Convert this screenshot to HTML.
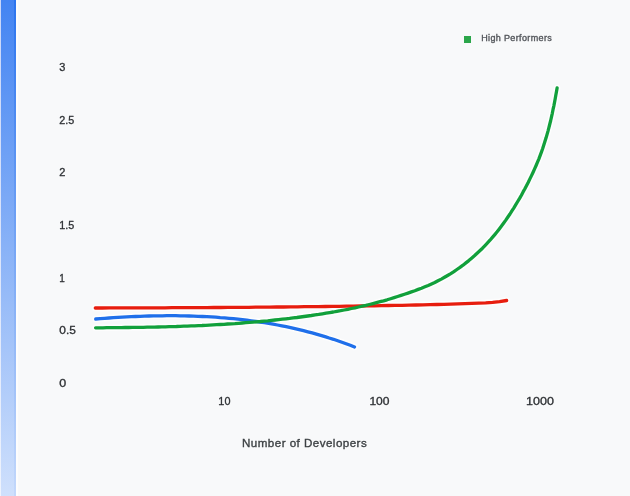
<!DOCTYPE html>
<html><head><meta charset="utf-8"><title>Chart</title>
<style>
html,body{margin:0;padding:0;}
body{width:630px;height:496px;overflow:hidden;background:#f8f9fa;position:relative;font-family:"Liberation Sans",sans-serif;}
.bar0{position:absolute;left:0;top:0;width:1px;height:496px;background:linear-gradient(#c8d6f9,#eef3fd);}
.bar{position:absolute;left:1px;top:0;width:15px;height:496px;background:linear-gradient(#4384f2,#cfe0fc);}
.bar2{position:absolute;left:14px;top:0;width:2px;height:496px;background:linear-gradient(#2b74ee,#c3d8fb);}
.bar3{position:absolute;left:16px;top:0;width:2px;height:496px;background:#fdfdfd;}
.title{position:absolute;left:242px;top:436.4px;font-size:11.6px;line-height:14px;color:#3c4043;-webkit-text-stroke:0.35px #3c4043;white-space:nowrap;letter-spacing:0.46px;}
.lg{position:absolute;left:463.7px;top:35.6px;width:7.6px;height:7.3px;background:#2ba64a;}
.lt{position:absolute;left:481.2px;top:32.5px;font-size:9px;line-height:11px;color:#53565b;-webkit-text-stroke:0.35px #53565b;white-space:nowrap;letter-spacing:0.36px;}
svg{position:absolute;left:0;top:0;}
</style></head><body>
<div class="bar0"></div><div class="bar"></div><div class="bar2"></div><div class="bar3"></div>
<div class="title">Number of Developers</div>
<div class="lg"></div><div class="lt">High Performers</div>
<svg width="630" height="496" viewBox="0 0 630 496" fill="none" stroke-width="3.3" stroke-linecap="round" stroke-linejoin="round">
<g stroke="#ffffff" stroke-width="6.4" opacity="0.75"><path d="M95.3,308.0 L102.3,308.0 L109.2,307.9 L116.2,307.9 L123.2,307.9 L130.2,307.9 L137.1,307.9 L144.1,307.8 L151.1,307.8 L158.0,307.8 L165.0,307.8 L172.0,307.7 L179.0,307.7 L185.9,307.7 L192.9,307.6 L199.9,307.6 L206.9,307.6 L213.8,307.5 L220.8,307.5 L227.8,307.4 L234.7,307.4 L241.7,307.3 L248.7,307.3 L255.7,307.2 L262.6,307.2 L269.6,307.1 L276.6,307.0 L283.6,307.0 L290.5,306.9 L297.5,306.8 L304.5,306.7 L311.5,306.7 L318.4,306.6 L325.4,306.5 L332.4,306.4 L339.4,306.3 L346.3,306.2 L353.3,306.1 L360.3,306.0 L367.2,305.9 L374.2,305.8 L381.2,305.6 L388.2,305.5 L395.1,305.4 L402.1,305.3 L409.1,305.1 L416.0,305.0 L423.0,304.8 L430.0,304.7 L436.9,304.5 L443.9,304.3 L450.9,304.1 L457.8,303.9 L464.8,303.7 L471.8,303.4 L478.7,303.1 L485.7,302.8 L492.6,302.3 L499.6,301.6 L506.6,300.5"/><path d="M95.7,319.0 L100.2,318.6 L104.6,318.3 L109.0,318.0 L113.4,317.7 L117.9,317.4 L122.3,317.1 L126.8,316.9 L131.2,316.7 L135.6,316.5 L140.1,316.3 L144.5,316.1 L149.0,316.0 L153.5,315.9 L157.9,315.8 L162.4,315.8 L166.8,315.7 L171.3,315.7 L175.7,315.7 L180.2,315.8 L184.7,315.9 L189.1,316.0 L193.6,316.1 L198.0,316.3 L202.5,316.5 L206.9,316.7 L211.4,316.9 L215.8,317.2 L220.2,317.6 L224.7,317.9 L229.1,318.3 L233.5,318.7 L238.0,319.2 L242.4,319.7 L246.8,320.2 L251.2,320.8 L255.6,321.4 L260.0,322.0 L264.4,322.7 L268.8,323.4 L273.1,324.2 L277.5,325.0 L281.9,325.8 L286.2,326.7 L290.6,327.6 L294.9,328.6 L299.2,329.6 L303.5,330.7 L307.9,331.8 L312.2,332.9 L316.4,334.1 L320.7,335.3 L325.0,336.6 L329.2,338.0 L333.5,339.3 L337.7,340.8 L341.9,342.2 L346.1,343.8 L350.3,345.3 L354.5,347.0"/><path d="M95.6,327.8 L99.3,327.8 L103.0,327.8 L106.7,327.7 L110.4,327.7 L114.0,327.7 L117.7,327.6 L121.4,327.6 L125.1,327.5 L128.8,327.5 L132.4,327.4 L136.1,327.4 L139.8,327.3 L143.5,327.3 L147.1,327.2 L150.8,327.1 L154.5,327.1 L158.1,327.0 L161.8,326.9 L165.5,326.8 L169.1,326.7 L172.8,326.6 L176.5,326.5 L180.1,326.3 L183.8,326.2 L187.4,326.1 L191.1,325.9 L194.7,325.8 L198.4,325.6 L202.1,325.5 L205.7,325.3 L209.4,325.1 L213.0,324.9 L216.7,324.7 L220.3,324.5 L224.0,324.3 L227.6,324.0 L231.3,323.8 L234.9,323.6 L238.6,323.3 L242.2,323.0 L245.8,322.7 L249.5,322.4 L253.1,322.1 L256.8,321.8 L260.4,321.5 L264.1,321.1 L267.7,320.8 L271.4,320.4 L275.0,320.0 L278.6,319.6 L282.3,319.2 L285.9,318.8 L289.6,318.4 L293.2,317.9 L296.9,317.5 L300.5,317.0 L304.1,316.5 L307.8,316.0 L311.4,315.5 L315.1,314.9 L318.7,314.4 L322.4,313.8 L326.0,313.2 L329.7,312.6 L333.3,312.0 L336.9,311.3 L340.6,310.7 L344.2,310.0 L347.8,309.3 L351.4,308.5 L355.0,307.8 L358.6,307.0 L362.2,306.2 L365.8,305.4 L369.4,304.5 L373.0,303.6 L376.5,302.7 L380.1,301.7 L383.6,300.8 L387.1,299.8 L390.6,298.7 L394.1,297.6 L397.6,296.5 L401.1,295.4 L404.5,294.3 L408.0,293.1 L411.4,291.9 L414.8,290.7 L418.2,289.4 L421.5,288.2 L424.9,286.8 L428.2,285.5 L431.5,284.0 L434.8,282.5 L438.0,280.8 L441.3,279.1 L444.5,277.3 L447.6,275.5 L450.8,273.6 L453.9,271.6 L456.9,269.5 L460.0,267.4 L463.0,265.2 L465.9,262.9 L468.8,260.6 L471.6,258.2 L474.4,255.8 L477.1,253.3 L479.8,250.8 L482.5,248.2 L485.0,245.6 L487.5,242.9 L490.0,240.2 L492.4,237.4 L494.8,234.6 L497.1,231.8 L499.3,228.9 L501.5,226.0 L503.7,223.0 L505.8,220.1 L507.9,217.0 L510.0,214.0 L511.9,210.9 L513.9,207.8 L515.8,204.7 L517.7,201.5 L519.6,198.4 L521.4,195.2 L523.1,191.9 L524.9,188.7 L526.6,185.4 L528.3,182.2 L529.9,178.9 L531.5,175.6 L533.1,172.2 L534.6,168.9 L536.1,165.5 L537.5,162.2 L538.9,158.8 L540.2,155.4 L541.5,151.9 L542.7,148.5 L543.8,145.1 L544.9,141.6 L546.0,138.1 L547.0,134.6 L548.0,131.1 L548.9,127.6 L549.8,124.0 L550.7,120.5 L551.5,116.9 L552.3,113.3 L553.0,109.7 L553.8,106.1 L554.5,102.5 L555.2,98.8 L555.8,95.2 L556.5,91.5 L557.1,87.9"/></g>
<path stroke="#e71d0e" d="M95.3,308.0 L102.3,308.0 L109.2,307.9 L116.2,307.9 L123.2,307.9 L130.2,307.9 L137.1,307.9 L144.1,307.8 L151.1,307.8 L158.0,307.8 L165.0,307.8 L172.0,307.7 L179.0,307.7 L185.9,307.7 L192.9,307.6 L199.9,307.6 L206.9,307.6 L213.8,307.5 L220.8,307.5 L227.8,307.4 L234.7,307.4 L241.7,307.3 L248.7,307.3 L255.7,307.2 L262.6,307.2 L269.6,307.1 L276.6,307.0 L283.6,307.0 L290.5,306.9 L297.5,306.8 L304.5,306.7 L311.5,306.7 L318.4,306.6 L325.4,306.5 L332.4,306.4 L339.4,306.3 L346.3,306.2 L353.3,306.1 L360.3,306.0 L367.2,305.9 L374.2,305.8 L381.2,305.6 L388.2,305.5 L395.1,305.4 L402.1,305.3 L409.1,305.1 L416.0,305.0 L423.0,304.8 L430.0,304.7 L436.9,304.5 L443.9,304.3 L450.9,304.1 L457.8,303.9 L464.8,303.7 L471.8,303.4 L478.7,303.1 L485.7,302.8 L492.6,302.3 L499.6,301.6 L506.6,300.5"/>
<path stroke="#1f6fea" d="M95.7,319.0 L100.2,318.6 L104.6,318.3 L109.0,318.0 L113.4,317.7 L117.9,317.4 L122.3,317.1 L126.8,316.9 L131.2,316.7 L135.6,316.5 L140.1,316.3 L144.5,316.1 L149.0,316.0 L153.5,315.9 L157.9,315.8 L162.4,315.8 L166.8,315.7 L171.3,315.7 L175.7,315.7 L180.2,315.8 L184.7,315.9 L189.1,316.0 L193.6,316.1 L198.0,316.3 L202.5,316.5 L206.9,316.7 L211.4,316.9 L215.8,317.2 L220.2,317.6 L224.7,317.9 L229.1,318.3 L233.5,318.7 L238.0,319.2 L242.4,319.7 L246.8,320.2 L251.2,320.8 L255.6,321.4 L260.0,322.0 L264.4,322.7 L268.8,323.4 L273.1,324.2 L277.5,325.0 L281.9,325.8 L286.2,326.7 L290.6,327.6 L294.9,328.6 L299.2,329.6 L303.5,330.7 L307.9,331.8 L312.2,332.9 L316.4,334.1 L320.7,335.3 L325.0,336.6 L329.2,338.0 L333.5,339.3 L337.7,340.8 L341.9,342.2 L346.1,343.8 L350.3,345.3 L354.5,347.0"/>
<path stroke="#11a03b" d="M95.6,327.8 L99.3,327.8 L103.0,327.8 L106.7,327.7 L110.4,327.7 L114.0,327.7 L117.7,327.6 L121.4,327.6 L125.1,327.5 L128.8,327.5 L132.4,327.4 L136.1,327.4 L139.8,327.3 L143.5,327.3 L147.1,327.2 L150.8,327.1 L154.5,327.1 L158.1,327.0 L161.8,326.9 L165.5,326.8 L169.1,326.7 L172.8,326.6 L176.5,326.5 L180.1,326.3 L183.8,326.2 L187.4,326.1 L191.1,325.9 L194.7,325.8 L198.4,325.6 L202.1,325.5 L205.7,325.3 L209.4,325.1 L213.0,324.9 L216.7,324.7 L220.3,324.5 L224.0,324.3 L227.6,324.0 L231.3,323.8 L234.9,323.6 L238.6,323.3 L242.2,323.0 L245.8,322.7 L249.5,322.4 L253.1,322.1 L256.8,321.8 L260.4,321.5 L264.1,321.1 L267.7,320.8 L271.4,320.4 L275.0,320.0 L278.6,319.6 L282.3,319.2 L285.9,318.8 L289.6,318.4 L293.2,317.9 L296.9,317.5 L300.5,317.0 L304.1,316.5 L307.8,316.0 L311.4,315.5 L315.1,314.9 L318.7,314.4 L322.4,313.8 L326.0,313.2 L329.7,312.6 L333.3,312.0 L336.9,311.3 L340.6,310.7 L344.2,310.0 L347.8,309.3 L351.4,308.5 L355.0,307.8 L358.6,307.0 L362.2,306.2 L365.8,305.4 L369.4,304.5 L373.0,303.6 L376.5,302.7 L380.1,301.7 L383.6,300.8 L387.1,299.8 L390.6,298.7 L394.1,297.6 L397.6,296.5 L401.1,295.4 L404.5,294.3 L408.0,293.1 L411.4,291.9 L414.8,290.7 L418.2,289.4 L421.5,288.2 L424.9,286.8 L428.2,285.5 L431.5,284.0 L434.8,282.5 L438.0,280.8 L441.3,279.1 L444.5,277.3 L447.6,275.5 L450.8,273.6 L453.9,271.6 L456.9,269.5 L460.0,267.4 L463.0,265.2 L465.9,262.9 L468.8,260.6 L471.6,258.2 L474.4,255.8 L477.1,253.3 L479.8,250.8 L482.5,248.2 L485.0,245.6 L487.5,242.9 L490.0,240.2 L492.4,237.4 L494.8,234.6 L497.1,231.8 L499.3,228.9 L501.5,226.0 L503.7,223.0 L505.8,220.1 L507.9,217.0 L510.0,214.0 L511.9,210.9 L513.9,207.8 L515.8,204.7 L517.7,201.5 L519.6,198.4 L521.4,195.2 L523.1,191.9 L524.9,188.7 L526.6,185.4 L528.3,182.2 L529.9,178.9 L531.5,175.6 L533.1,172.2 L534.6,168.9 L536.1,165.5 L537.5,162.2 L538.9,158.8 L540.2,155.4 L541.5,151.9 L542.7,148.5 L543.8,145.1 L544.9,141.6 L546.0,138.1 L547.0,134.6 L548.0,131.1 L548.9,127.6 L549.8,124.0 L550.7,120.5 L551.5,116.9 L552.3,113.3 L553.0,109.7 L553.8,106.1 L554.5,102.5 L555.2,98.8 L555.8,95.2 L556.5,91.5 L557.1,87.9"/>
<g font-family="Liberation Sans, sans-serif" font-size="10" fill="#2e3134" stroke="#2e3134" stroke-width="0.3"><text transform="translate(218.37,405.3) scale(1.086,1)">10</text><text transform="translate(369.38,405.3) scale(1.206,1)">100</text><text transform="translate(526.05,405.3) scale(1.253,1)">1000</text></g>
<g font-family="Liberation Sans, sans-serif" font-size="10" fill="#2e3134" stroke="#2e3134" stroke-width="0.3"><text transform="translate(59.3,70.60) scale(1.1,1)">3</text><text transform="translate(59.3,123.60) scale(1.08,1)">2.5</text><text transform="translate(59.3,176.20) scale(1.1,1)">2</text><text transform="translate(59.3,229.00) scale(1.08,1)">1.5</text><text transform="translate(59.3,281.90) scale(1.0,1)">1</text><text transform="translate(59.3,334.40) scale(1.19,1)">0.5</text><text transform="translate(59.3,387.00) scale(1.25,1)">0</text></g>
</svg>
</body></html>
